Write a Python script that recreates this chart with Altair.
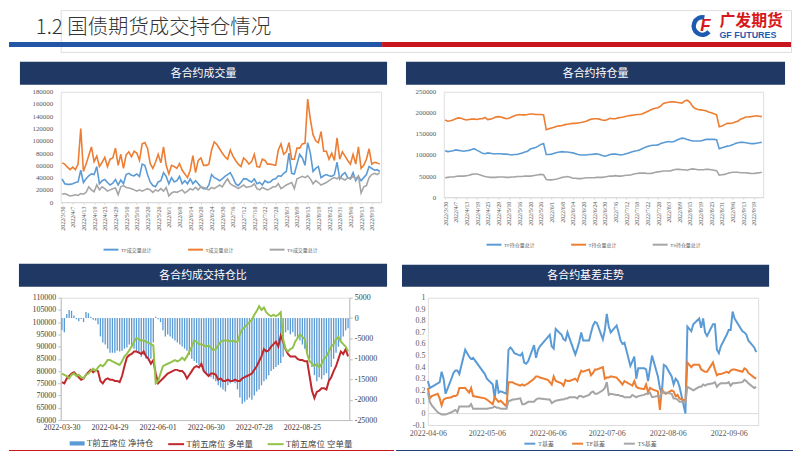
import altair as alt
import pandas as pd

# ---------------- dates ----------------
holidays = ["2022-04-04", "2022-04-05", "2022-05-02", "2022-05-03", "2022-05-04",
            "2022-06-03", "2022-09-12"]
trade_days = [d for d in pd.bdate_range("2022-03-30", "2022-09-22")
              if d.strftime("%Y-%m-%d") not in holidays]
iso = [d.strftime("%Y-%m-%d") for d in trade_days]
slash = [f"{d.year}/{d.month}/{d.day}" for d in trade_days]
basis_dates = iso[3:118]          # 2022-04-06 .. 2022-09-20

# ---------------- 各合约成交量 ----------------
vol_names = ["TF成交量总计", "T成交量总计", "TS成交量总计"]
TF_vol = [38000,30000,29000,29000,30000,32000,33000,52000,32000,38000,
          43000,46000,45000,58000,30000,35000,37000,32000,28000,31000,
          37000,28000,36000,30000,45000,47000,44000,43000,46000,42000,
          62000,60000,45000,33000,27000,25000,33000,35000,48000,42000,
          30000,40000,33000,35000,42000,30000,35000,30000,38000,30000,
          35000,30000,25000,22000,22000,28000,45000,40000,38000,35000,
          38000,42000,45000,48000,40000,30000,27000,32000,38000,38000,
          35000,33000,38000,30000,32000,28000,35000,32000,33000,37000,
          38000,43000,42000,47000,50000,80000,47000,46000,62000,78000,
          72000,60000,97000,80000,50000,55000,58000,40000,43000,45000,
          43000,42000,45000,65000,38000,45000,48000,40000,38000,48000,
          35000,42000,35000,40000,45000,58000,55000,52000,53000,50000]
T_vol = [64000,62000,57000,53000,57000,53000,62000,120000,50000,62000,
         76000,90000,66000,75000,58000,65000,73000,58000,70000,72000,
         88000,60000,78000,55000,77000,82000,74000,83000,80000,68000,
         95000,97000,88000,63000,55000,65000,78000,64000,90000,60000,
         46000,60000,58000,55000,63000,52000,46000,40000,52000,76000,
         48000,68000,72000,60000,60000,62000,85000,98000,94000,87000,
         80000,74000,70000,85000,75000,68000,62000,58000,72000,68000,
         62000,66000,78000,58000,57000,70000,68000,62000,62000,61000,
         60000,85000,95000,78000,82000,97000,70000,70000,88000,88000,
         95000,96000,168000,135000,110000,100000,97000,115000,83000,83000,
         70000,80000,68000,105000,70000,82000,75000,68000,62000,78000,
         62000,90000,55000,60000,70000,87000,62000,65000,64000,62000]
TS_vol = [13000,14000,12000,10000,11000,12000,11000,14000,13000,16000,
          25000,20000,17000,28000,20000,25000,22000,18000,20000,22000,
          23000,12000,25000,27000,24000,23000,22000,20000,18000,20000,
          18000,20000,22000,20000,16000,20000,18000,22000,18000,24000,
          10000,15000,17000,16000,18000,20000,15000,18000,22000,20000,
          24000,20000,25000,24000,22000,20000,24000,22000,25000,28000,
          25000,32000,38000,30000,27000,25000,22000,25000,28000,24000,
          25000,26000,30000,22000,20000,24000,22000,20000,22000,25000,
          25000,30000,22000,25000,28000,30000,32000,22000,38000,40000,
          42000,40000,43000,38000,30000,35000,32000,28000,30000,32000,
          35000,38000,40000,38000,42000,38000,36000,40000,38000,42000,
          38000,43000,15000,25000,27000,40000,45000,47000,45000,48000]

# ---------------- 各合约持仓量 ----------------
oi_names = ["TF持仓量总计", "T持仓量总计", "TS持仓量总计"]
TF_oi = [110000,108000,109000,110000,112000,111000,110000,109000,110000,111000,
         113000,115000,111000,108000,104000,103000,105000,104000,103000,103000,
         103000,103000,102000,102000,101000,100000,101000,101000,103000,105000,
         107000,109000,114000,116000,118000,121000,125000,127000,101000,101000,
         102000,104000,106000,107000,108000,107000,107000,106000,105000,103000,
         101000,100000,100000,100000,101000,101000,102000,103000,101000,99000,
         97000,99000,101000,102000,102000,101000,100000,101000,103000,105000,
         107000,109000,110000,112000,115000,118000,120000,122000,123000,123000,
         124000,127000,129000,131000,132000,131000,132000,135000,138000,140000,
         139000,137000,135000,133000,133000,133000,133000,135000,137000,137000,
         137000,137000,136000,115000,117000,119000,121000,122000,124000,127000,
         129000,130000,130000,129000,128000,127000,127000,128000,129000,130000]
T_oi = [183000,180000,181000,183000,186000,188000,187000,185000,183000,184000,
        185000,185000,184000,186000,186000,189000,184000,185000,187000,190000,
        191000,190000,188000,186000,187000,190000,193000,195000,196000,195000,
        195000,196000,197000,197000,196000,196000,196000,195000,160000,162000,
        164000,166000,168000,169000,170000,172000,173000,174000,175000,175000,
        176000,177000,178000,180000,183000,185000,186000,186000,185000,183000,
        182000,184000,187000,186000,186000,188000,189000,190000,192000,193000,
        194000,195000,196000,196000,197000,200000,203000,206000,209000,211000,
        212000,216000,222000,224000,225000,226000,226000,225000,224000,223000,
        228000,230000,225000,215000,210000,208000,207000,206000,205000,202000,
        200000,198000,195000,167000,169000,172000,175000,175000,176000,178000,
        180000,185000,187000,190000,190000,191000,192000,193000,192000,191000]
TS_oi = [46000,47000,48000,48000,49000,50000,50000,50000,51000,52000,
         54000,55000,55000,53000,51000,49000,48000,47000,47000,47000,
         48000,48000,48000,47000,47000,48000,48000,49000,49000,49000,
         50000,50000,50000,51000,52000,53000,54000,53000,42000,41000,
         41000,42000,43000,45000,47000,48000,49000,47000,45000,45000,
         44000,44000,45000,46000,46000,46000,46000,47000,47000,47000,
         48000,49000,50000,50000,51000,50000,50000,51000,52000,52000,
         53000,55000,56000,57000,57000,57000,56000,56000,57000,59000,
         60000,61000,62000,62000,62000,63000,65000,66000,66000,65000,
         65000,64000,66000,67000,66000,65000,65000,65000,66000,66000,
         65000,64000,63000,52000,53000,54000,56000,58000,59000,59000,
         59000,58000,58000,58000,57000,56000,56000,57000,58000,59000]

# ---------------- 各合约成交持仓比 ----------------
pos_names = ["T前五席位 净持仓", "T前五席位 多单量", "T前五席位 空单量"]
T_net = [-3000,-3500,1000,2000,1800,600,-300,-800,-200,-1000,
         1500,1200,300,-400,-600,-1500,-4500,-6000,-6500,-7500,
         -8500,-8500,-8500,-8000,-8200,-8000,-7500,-7200,-6500,-7000,
         -7500,-8000,-8500,-9500,-9000,-10000,-10500,-10000,-6000,300,
         -300,-1000,-3000,-4500,-4000,-4500,-5000,-5500,-6000,-6500,
         -7000,-7500,-8000,-9000,-10000,-10500,-11000,-11500,-12000,-13000,
         -13500,-14000,-14500,-15000,-15500,-16500,-17000,-17500,-18000,-16500,
         -16000,-15500,-16000,-17500,-19500,-21000,-20500,-20000,-19500,-20000,
         -19000,-18000,-17500,-16500,-15500,-15000,-14000,-13000,-12500,-12000,
         -11500,-11000,-9500,-3500,-3000,-4000,-3500,-4500,-5000,-5500,
         -6500,-7500,-8500,-10000,-12000,-14000,-15500,-14500,-15000,-14000,
         -13500,-15500,-12000,-10000,-8500,-7000,-5500,-4500,-3000,-2500]
T_long = [75500,75000,77000,78000,79000,79500,78500,77500,76500,77000,
          78500,79500,80500,79500,80500,80000,76000,75000,76500,77000,
          76500,76500,76000,76000,75500,78000,82000,85500,86500,87000,
          88000,88000,87500,87000,88000,86000,85000,83000,84500,79000,
          75000,76000,77000,78000,79000,79500,80000,80500,80500,80000,
          80000,79000,77000,78500,80000,81500,82000,81500,83000,80000,
          79000,78000,79000,79000,78500,76500,77000,76000,76000,76500,
          76000,76000,76500,76000,76000,77000,77500,78000,78500,79000,
          80500,82000,84000,86000,89000,88000,88500,90000,91000,92000,
          90000,94500,92000,89000,87000,86000,86000,86000,85000,84500,
          84500,84000,84000,78000,72000,69000,71500,72000,73000,73000,
          72500,76000,77500,80000,82000,85000,88000,87000,89000,86000]
T_short = [79000,78500,78000,77000,78500,79000,78000,78500,77500,77000,
           78500,79000,80000,81000,80000,81500,82500,82000,83000,84500,
           84500,84000,83500,83000,82500,84000,86000,87000,88500,90000,
           92000,93500,93000,92500,92500,92000,91500,91000,90500,75000,
           76000,79000,82000,82500,83000,83500,84000,84500,84000,84500,
           85500,84500,86000,88000,90000,92500,92000,91000,91000,90500,
           90000,90500,89500,88500,89000,90500,92000,92500,92500,92500,
           92000,92500,92000,92000,95000,97000,98000,99000,100000,101000,
           103000,104500,106500,105000,106000,104000,103000,102500,103000,102500,
           103000,104000,93000,89000,88000,89000,89500,92000,93500,95000,
           94000,93000,87000,84000,83000,82000,83000,81500,83000,85000,
           86000,88000,90000,91000,93000,94000,92000,91000,90000,88000]

# ---------------- 各合约基差走势 ----------------
basis_names = ["T基差", "TF基差", "TS基差"]
T_basis = [0.28,0.22,0.23,0.26,0.27,0.36,0.30,0.17,0.30,0.35,0.37,0.37,0.34,0.55,0.52,0.49,0.47,0.48,
           0.34,0.30,0.25,0.13,0.29,0.18,0.19,0.17,0.55,0.57,0.55,0.52,0.50,0.52,0.44,0.43,0.45,0.59,0.48,
           0.55,0.58,0.66,0.68,0.58,0.56,0.73,0.68,0.64,0.63,0.70,0.65,0.51,0.56,0.62,0.70,0.63,0.63,0.70,0.76,0.79,
           0.78,0.64,0.72,0.86,0.75,0.70,0.76,0.70,0.63,0.60,0.61,0.41,0.45,0.49,0.30,0.39,0.39,0.38,0.28,0.39,0.50,
           0.32,0.22,0.17,0.42,0.41,0.32,0.25,0.30,0.28,0.23,0.00,0.75,0.73,0.71,0.77,0.82,0.74,0.82,0.70,0.67,0.77,0.77,0.55,
           0.52,0.58,0.68,0.72,0.72,0.88,0.82,0.71,0.70,0.68,0.63,0.57,0.53]
TF_basis = [0.22,0.13,0.15,0.17,0.13,0.07,0.12,0.13,0.14,0.15,0.15,0.16,0.22,0.22,0.20,0.18,0.22,0.15,
            0.13,0.12,0.08,0.14,0.12,0.10,0.11,0.06,0.27,0.27,0.27,0.26,0.24,0.25,0.24,0.25,0.26,0.30,0.32,
            0.32,0.31,0.29,0.27,0.25,0.32,0.28,0.26,0.24,0.29,0.28,0.28,0.30,0.28,0.33,0.37,0.36,0.38,0.33,0.35,0.38,
            0.38,0.40,0.30,0.31,0.31,0.32,0.31,0.29,0.27,0.25,0.28,0.25,0.24,0.28,0.23,0.22,0.21,0.25,0.18,0.22,0.21,
            0.19,0.03,0.21,0.18,0.17,0.20,0.19,0.15,0.16,0.13,0.11,0.44,0.42,0.40,0.42,0.42,0.38,0.37,0.36,0.36,0.44,0.38,0.33,
            0.34,0.34,0.36,0.35,0.37,0.38,0.38,0.36,0.39,0.38,0.35,0.31,0.30]
TS_basis = [0.18,0.10,0.07,0.01,0.00,-0.01,-0.01,-0.01,0.01,0.02,0.03,0.01,0.06,0.06,0.06,0.06,0.08,0.04,
            0.04,0.04,0.05,0.06,0.05,0.05,0.04,0.04,0.11,0.11,0.12,0.12,0.13,0.08,0.08,0.09,0.10,0.10,0.12,
            0.13,0.13,0.12,0.12,0.09,0.10,0.11,0.12,0.12,0.13,0.13,0.14,0.14,0.13,0.15,0.15,0.14,0.16,0.18,0.19,0.17,
            0.17,0.20,0.22,0.27,0.16,0.17,0.16,0.16,0.15,0.15,0.14,0.14,0.16,0.15,0.14,0.15,0.16,0.17,0.17,0.18,0.14,
            0.15,0.14,0.19,0.18,0.18,0.17,0.13,0.13,0.12,0.10,0.10,0.23,0.22,0.21,0.20,0.23,0.23,0.25,0.24,0.25,0.26,0.27,0.23,
            0.25,0.26,0.26,0.27,0.24,0.26,0.26,0.27,0.29,0.28,0.26,0.22,0.23]

for s in (TF_vol, T_vol, TS_vol, TF_oi, T_oi, TS_oi, T_net, T_long, T_short):
    assert len(s) == len(iso) == 120, len(s)
for s in (T_basis, TF_basis, TS_basis):
    assert len(s) == len(basis_dates), len(s)

# ---------------- styling ----------------
NAVY = "#203864"
SERIF = "Liberation Serif, Noto Sans CJK SC"
CJK = "Noto Sans CJK SC"
LBL = "#595959"
C3 = ["#5B9BD5", "#ED7D31", "#A5A5A5"]
one = pd.DataFrame({"k": [0]})


def rect(x0, x1, y0, y1, color, opacity=1.0):
    return alt.Chart(one).mark_rect(color=color, opacity=opacity).encode(
        x=alt.value(x0), x2=alt.value(x1), y=alt.value(y0), y2=alt.value(y1))


def label(x, y, txt, size, color, font=SERIF, weight="normal", align="center", style="normal"):
    return alt.Chart(one).mark_text(
        font=font, fontSize=size, color=color, fontWeight=weight, align=align,
        baseline="middle", fontStyle=style).encode(
        x=alt.value(x), y=alt.value(y), text=alt.value(txt))


def title_bar(x0, x1, y0, y1, txt):
    return [rect(x0, x1, y0, y1, NAVY),
            label((x0 + x1) / 2, (y0 + y1) / 2 + 0.5, txt, 11, "white")]


def long_df(names, lists, keys):
    rows = []
    for name, vals in zip(names, lists):
        for i, v in enumerate(vals):
            rows.append({"idx": i, "key": keys[i], "series": name, "value": v})
    return pd.DataFrame(rows)


def line_legend(x, y, font_size, pad, sym_len, offset=1.5):
    return alt.Legend(orient="none", legendX=x, legendY=y, direction="horizontal",
                      title=None, symbolType="stroke", symbolSize=sym_len * sym_len,
                      symbolStrokeWidth=2, labelFontSize=font_size, labelFont=SERIF,
                      labelColor=LBL, columnPadding=pad, labelOffset=offset, padding=0)


# ---------------- top panels ----------------
def top_panel(names, lists, ymax, ystep, w, h, frame, bar, leg_y, title):
    df = long_df(names, lists, slash)
    lines = alt.Chart(df).mark_line(strokeWidth=1.6).encode(
        x=alt.X("key:N", sort=slash, title=None, scale=alt.Scale(padding=0.5),
                axis=alt.Axis(values=slash[::4], labelAngle=-90, labelFontSize=6,
                              labelFont=SERIF, labelColor=LBL, domainColor="#D9D9D9",
                              tickColor="#D9D9D9", tickSize=2, labelPadding=2,
                              labelOverlap=False)),
        y=alt.Y("value:Q", title=None, scale=alt.Scale(domain=[0, ymax], nice=False),
                axis=alt.Axis(values=list(range(0, ymax + 1, ystep)), format="d",
                              grid=False, domain=False, ticks=False, labelFontSize=7,
                              labelFont=SERIF, labelColor=LBL, labelPadding=8,
                              labelOverlap=False)),
        color=alt.Color("series:N", scale=alt.Scale(domain=names, range=C3),
                        legend=line_legend(42, leg_y, 5, 32, 15)),
        order=alt.Order("idx:Q"),
    )
    layers = [rect(*frame, "white", 0.0)] + title_bar(*bar, title) + [lines]
    return alt.layer(*layers).properties(width=w, height=h)


tl = top_panel(vol_names, [TF_vol, T_vol, TS_vol], 180000, 20000, 322, 111,
               (-52, 336, -38, 167), (-41, 328, -30, -7), 150, "各合约成交量")
tr = top_panel(oi_names, [TF_oi, T_oi, TS_oi], 250000, 50000, 321, 106,
               (-47, 351, -38, 167), (-38, 343, -30, -7), 145, "各合约持仓量")

# ---------------- bottom-left: dual axis ----------------
bar_df = pd.DataFrame({"idx": range(120), "key": iso, "series": pos_names[0], "value": T_net})
ls_df = long_df(pos_names[1:], [T_long, T_short], iso)
minus_fix = "replace(format(datum.value, 'd'), '\u2212', '-')"

x_bl = alt.X("key:N", sort=iso, title=None,
             scale=alt.Scale(paddingInner=0.45, paddingOuter=0.225),
             axis=alt.Axis(values=iso[::20], labelAngle=0, labelFontSize=8, labelFont=SERIF,
                           labelColor="#404040", domainColor="#BFBFBF", ticks=False,
                           labelPadding=4, labelOverlap=False))
bars = alt.Chart(bar_df).mark_bar().encode(
    x=x_bl,
    y=alt.Y("value:Q", title=None, scale=alt.Scale(domain=[-25000, 5000], nice=False),
            axis=alt.Axis(orient="right", values=list(range(-25000, 5001, 5000)),
                          labelExpr=minus_fix, grid=False, domainColor="#BFBFBF",
                          tickColor="#BFBFBF", tickSize=3, labelFontSize=8, labelFont=SERIF,
                          labelColor="#404040", labelPadding=2, labelOverlap=False)),
    color=alt.Color("series:N", scale=alt.Scale(domain=[pos_names[0]], range=["#5B9BD5"]),
                    legend=alt.Legend(orient="none", legendX=8, legendY=138,
                                      direction="horizontal", title=None,
                                      symbolType="M-1,-0.28H1V0.28H-1Z", symbolSize=225,
                                      labelFontSize=8.5, labelFont=SERIF, labelColor="#404040",
                                      labelOffset=1.5, padding=0)),
)
ls_lines = alt.Chart(ls_df).mark_line(strokeWidth=2).encode(
    x=alt.X("key:N", sort=iso),
    y=alt.Y("value:Q", title=None, scale=alt.Scale(domain=[60000, 110000], nice=False),
            axis=alt.Axis(orient="left", values=list(range(60000, 110001, 5000)), format="d",
                          grid=False, domainColor="#BFBFBF", tickColor="#BFBFBF", tickSize=3,
                          labelFontSize=8, labelFont=SERIF, labelColor="#404040",
                          labelPadding=2, labelOverlap=False)),
    color=alt.Color("series:N", scale=alt.Scale(domain=pos_names[1:], range=["#C0282E", "#92C24A"]),
                    legend=alt.Legend(orient="none", legendX=107, legendY=138,
                                      direction="horizontal", title=None, symbolType="stroke",
                                      symbolSize=256, symbolStrokeWidth=2, labelFontSize=8.5,
                                      labelFont=SERIF, labelColor="#404040", columnPadding=10,
                                      labelOffset=1.5, padding=0)),
    order=alt.Order("idx:Q"),
)
bl = alt.layer(
    rect(-52, 335, -38, 158, "white", 0.0),
    *title_bar(-42, 328, -34, -11, "各合约成交持仓比"),
    rect(-52, 335, 153, 157, "#C8161E"),
    bars, ls_lines,
).resolve_scale(y="independent", color="independent").properties(width=290, height=123)

# ---------------- bottom-right: basis ----------------
br_df = long_df(basis_names, [T_basis, TF_basis, TS_basis], basis_dates)
month_ticks = [alt.DateTime(year=2022, month=m, date=6, utc=True) for m in range(4, 10)]
basis_ticks = [round(v / 10, 1) for v in range(-1, 11)]
br_lines = alt.Chart(br_df).mark_line(strokeWidth=2).encode(
    x=alt.X("key:T", title=None,
            scale=alt.Scale(type="utc", domain=[alt.DateTime(year=2022, month=4, date=6, utc=True),
                                                alt.DateTime(year=2022, month=9, date=21, utc=True)]),
            axis=alt.Axis(values=month_ticks, format="%Y-%m-%d", labelFontSize=8, labelFont=SERIF,
                          labelColor=LBL, domain=False, ticks=False, grid=False, labelPadding=5,
                          labelAngle=0, labelOverlap=False, labelFlush=False)),
    y=alt.Y("value:Q", title=None, scale=alt.Scale(domain=[-0.1, 1.0], nice=False),
            axis=alt.Axis(values=basis_ticks,
                          labelExpr="replace(format(datum.value, '.1~f'), '\u2212', '-')",
                          grid=True,
                          gridColor=alt.condition("abs(datum.value) < 0.001",
                                                  alt.value("#D9D9D9"), alt.value("transparent")),
                          domain=False, ticks=False, labelFontSize=8,
                          labelFont=SERIF, labelColor=LBL, labelPadding=3, labelOverlap=False,
                          labelFlush=False)),
    color=alt.Color("series:N", scale=alt.Scale(domain=basis_names, range=C3),
                    legend=line_legend(96, 140, 6, 14, 11, 2)),
    order=alt.Order("idx:Q"),
)
br = alt.layer(
    rect(-32, 367, -38, 158, "white", 0.0),
    *title_bar(-26, 343, -33, -11, "各合约基差走势"),
    rect(-32, 367, 153, 157, "#22407A"),
    br_lines,
).properties(width=332, height=128)

# ---------------- header (origin aligned with the top-left plot, page x 60) ----------------
OX = 52
header = alt.layer(
    label(35 - 8 - OX, 18, "1.2 国债期货成交持仓情况", 20.5, "#333333", font=CJK, align="left",
          weight=300),
    rect(-OX, 375 - OX, 32, 37, "#2356A6"),
    rect(375 - OX, 786 - OX, 32, 37, "#C8161E"),
    alt.Chart(one).mark_arc(color="#1E5BB0", theta=2.3, theta2=6.5, outerRadius=11,
                            innerRadius=6.5).encode(x=alt.value(697 - OX), y=alt.value(16)),
    label(700 - OX, 16, "F", 17, "#D7191C", font="Liberation Sans", weight="bold", style="italic"),
    label(714 - OX, 11, "广发期货", 16, "#D7191C", font=CJK, weight="bold", align="left"),
    label(714 - OX, 25.5, "GF FUTURES", 9, "#1E5BB0", font="Liberation Sans", weight="bold",
          align="left"),
).properties(width=786 - OX, height=42)

row1 = alt.hconcat(tl, tr, spacing=0).resolve_scale(color="independent")
row2 = alt.hconcat(bl, br, spacing=0).resolve_scale(color="independent")
chart = alt.vconcat(header, row1, row2, spacing=0).resolve_scale(
    color="independent").properties(padding=0).configure_view(
    strokeWidth=0).configure(background="white")

chart.save("out.html", embed_options={"renderer": "svg", "actions": False})
